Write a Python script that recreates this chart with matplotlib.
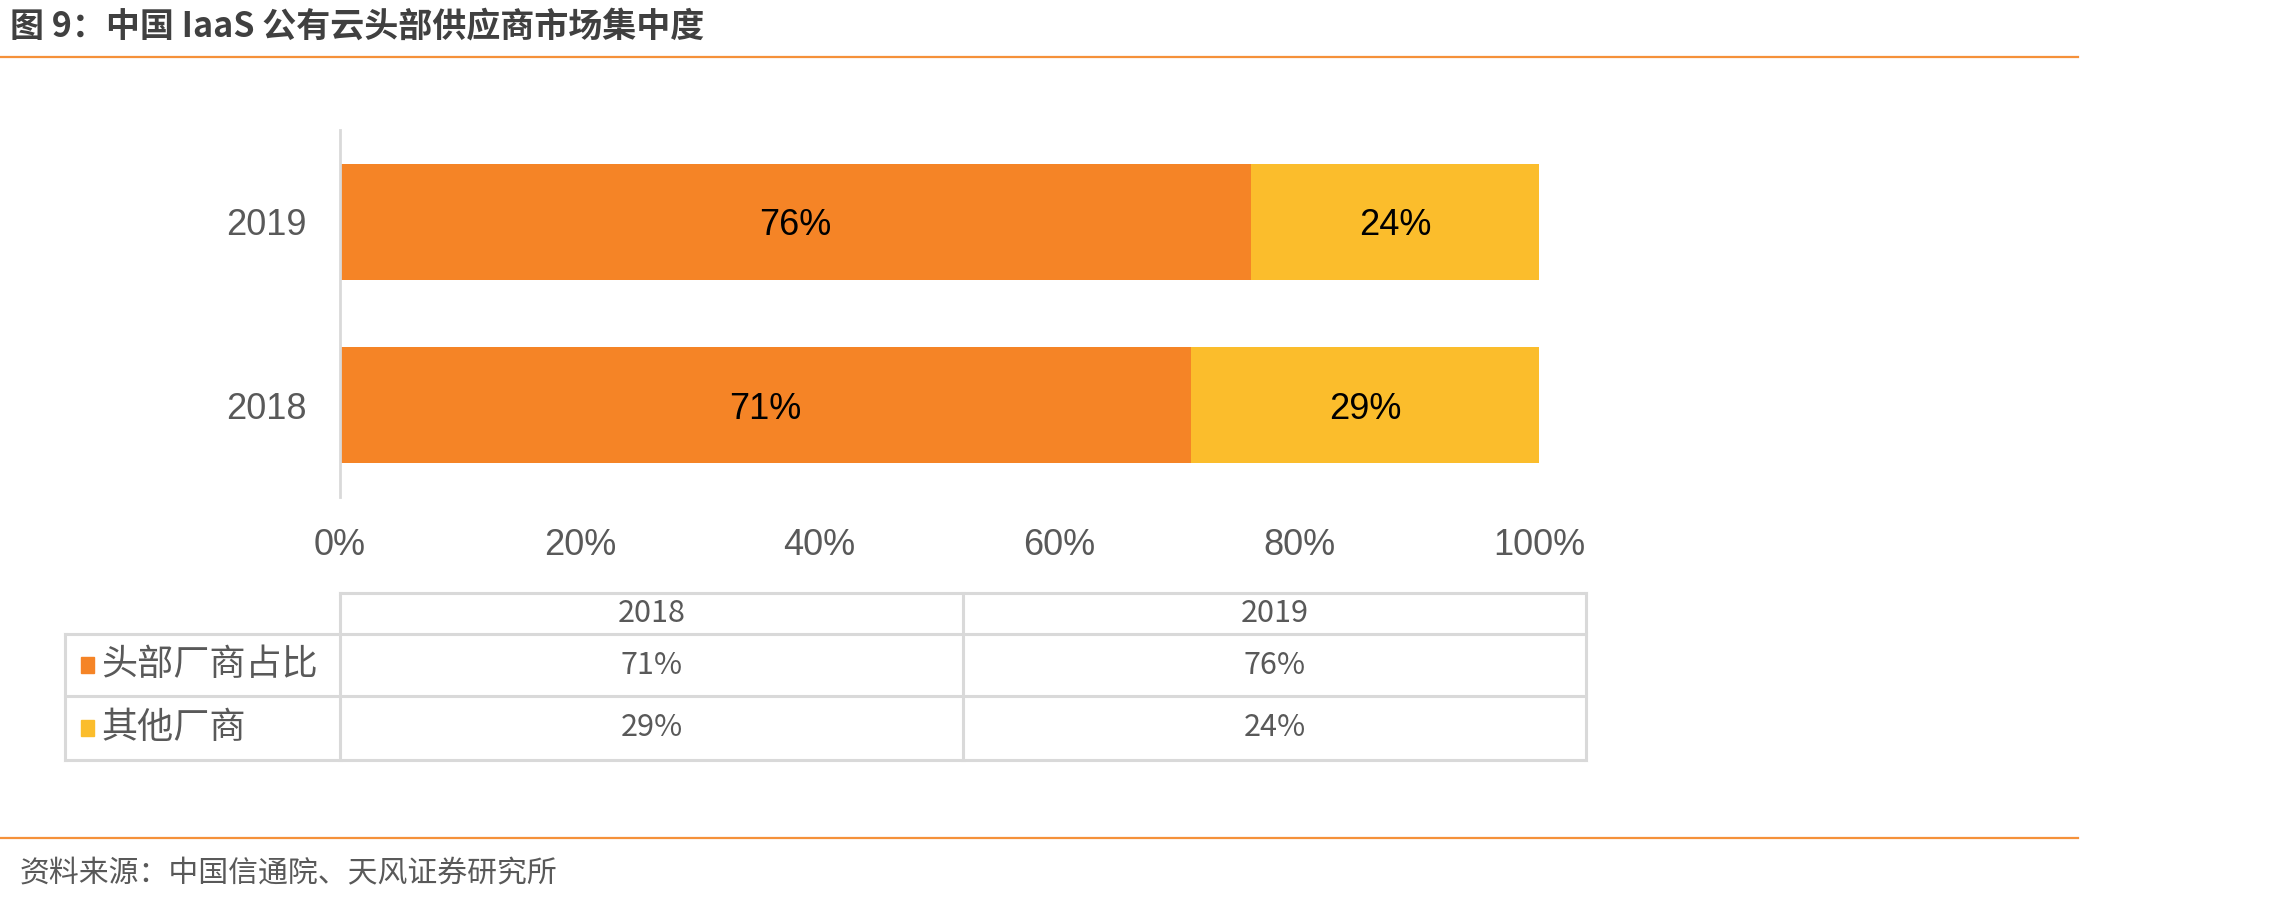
import matplotlib.pyplot as plt
import matplotlib.patches as mpatches
from matplotlib.lines import Line2D

plt.rcParams['font.family'] = ['Liberation Sans', 'Noto Sans CJK SC', 'DejaVu Sans']

# data
years = ['2018', '2019']
series_names = ['头部厂商占比', '其他厂商']
top_share = [0.71, 0.76]
other_share = [0.29, 0.24]
x_ticks = [0, 0.2, 0.4, 0.6, 0.8, 1.0]
x_tick_labels = ['0%', '20%', '40%', '60%', '80%', '100%']

title = '图 9：中国 IaaS 公有云头部供应商市场集中度'
source = '资料来源：中国信通院、天风证券研究所'

colors = ['#F58426', '#FBBD2C']
grey = '#595959'
grid_grey = '#D9D9D9'
line_orange = '#F5913A'

W, H = 2279, 901
fig = plt.figure(figsize=(W / 100, H / 100), dpi=100)

# main bar chart, placed in pixel units
left, right, top, bottom = 340, 1539, 130, 497
ax = fig.add_axes([left / W, 1 - bottom / H, (right - left) / W, (bottom - top) / H])

ypos = list(range(len(years)))
ax.barh(ypos, top_share, height=0.63, color=colors[0])
ax.barh(ypos, other_share, left=top_share, height=0.63, color=colors[1])

for i in ypos:
    ax.text(top_share[i] / 2, i, '{:.0%}'.format(top_share[i]),
            ha='center', va='center_baseline', fontsize=26, color='black')
    ax.text(top_share[i] + other_share[i] / 2, i, '{:.0%}'.format(other_share[i]),
            ha='center', va='center_baseline', fontsize=26, color='black')

ax.set_xlim(0, 1)
ax.set_ylim(-0.5, 1.5)
ax.set_yticks(ypos)
ax.set_yticklabels(years)
ax.set_xticks(x_ticks)
ax.set_xticklabels(x_tick_labels)
ax.tick_params(axis='both', length=0, labelsize=26, labelcolor=grey)
ax.tick_params(axis='y', pad=24)
ax.tick_params(axis='x', pad=22)
for s in ['top', 'right', 'bottom']:
    ax.spines[s].set_visible(False)
ax.spines['left'].set_color(grid_grey)
ax.spines['left'].set_linewidth(2)

# overlay in pixel coordinates for title, rules and data table
ov = fig.add_axes([0, 0, 1, 1])
ov.set_xlim(0, W)
ov.set_ylim(H, 0)
ov.axis('off')

ov.text(10, 26, title, fontsize=24.5, fontweight='bold', color='#404040',
        ha='left', va='center', family=['Noto Sans CJK SC', 'DejaVu Sans'])
ov.add_line(Line2D([0, 2078], [57, 57], color=line_orange, lw=1.6))
ov.add_line(Line2D([0, 2078], [838, 838], color=line_orange, lw=1.6))
ov.text(20, 874, source, fontsize=21.5, color=grey, ha='left', va='center',
        family=['Noto Sans CJK SC', 'DejaVu Sans'])

# data table under the chart
col_x = [65, 340, 963, 1586]
row_y = [593, 634, 696, 760]
tlw = 2.2
ov.add_line(Line2D([col_x[1], col_x[3]], [row_y[0], row_y[0]], color=grid_grey, lw=tlw))
for y in row_y[1:]:
    ov.add_line(Line2D([col_x[0], col_x[3]], [y, y], color=grid_grey, lw=tlw))
ov.add_line(Line2D([col_x[0], col_x[0]], [row_y[1], row_y[3]], color=grid_grey, lw=tlw))
for x in col_x[1:]:
    ov.add_line(Line2D([x, x], [row_y[0], row_y[3]], color=grid_grey, lw=tlw))

narrow = ['Liberation Sans Narrow', 'Noto Sans CJK SC', 'DejaVu Sans']
for j, yr in enumerate(years):
    cx = (col_x[j + 1] + col_x[j + 2]) / 2
    ov.text(cx, (row_y[0] + row_y[1]) / 2, yr, fontsize=22, color=grey,
            ha='center', va='center', family=narrow)

table_rows = [top_share, other_share]
for i, name in enumerate(series_names):
    cy = (row_y[i + 1] + row_y[i + 2]) / 2
    ov.add_patch(mpatches.Rectangle((81, cy - 8), 13, 16, color=colors[i]))
    ov.text(101, cy, name, fontsize=26, color=grey, ha='left', va='center',
            family=['Noto Sans CJK SC', 'DejaVu Sans'])
    for j in range(len(years)):
        cx = (col_x[j + 1] + col_x[j + 2]) / 2
        ov.text(cx, cy, '{:.0%}'.format(table_rows[i][j]), fontsize=22, color=grey,
                ha='center', va='center', family=narrow)

fig.savefig('out.png', dpi=100)
